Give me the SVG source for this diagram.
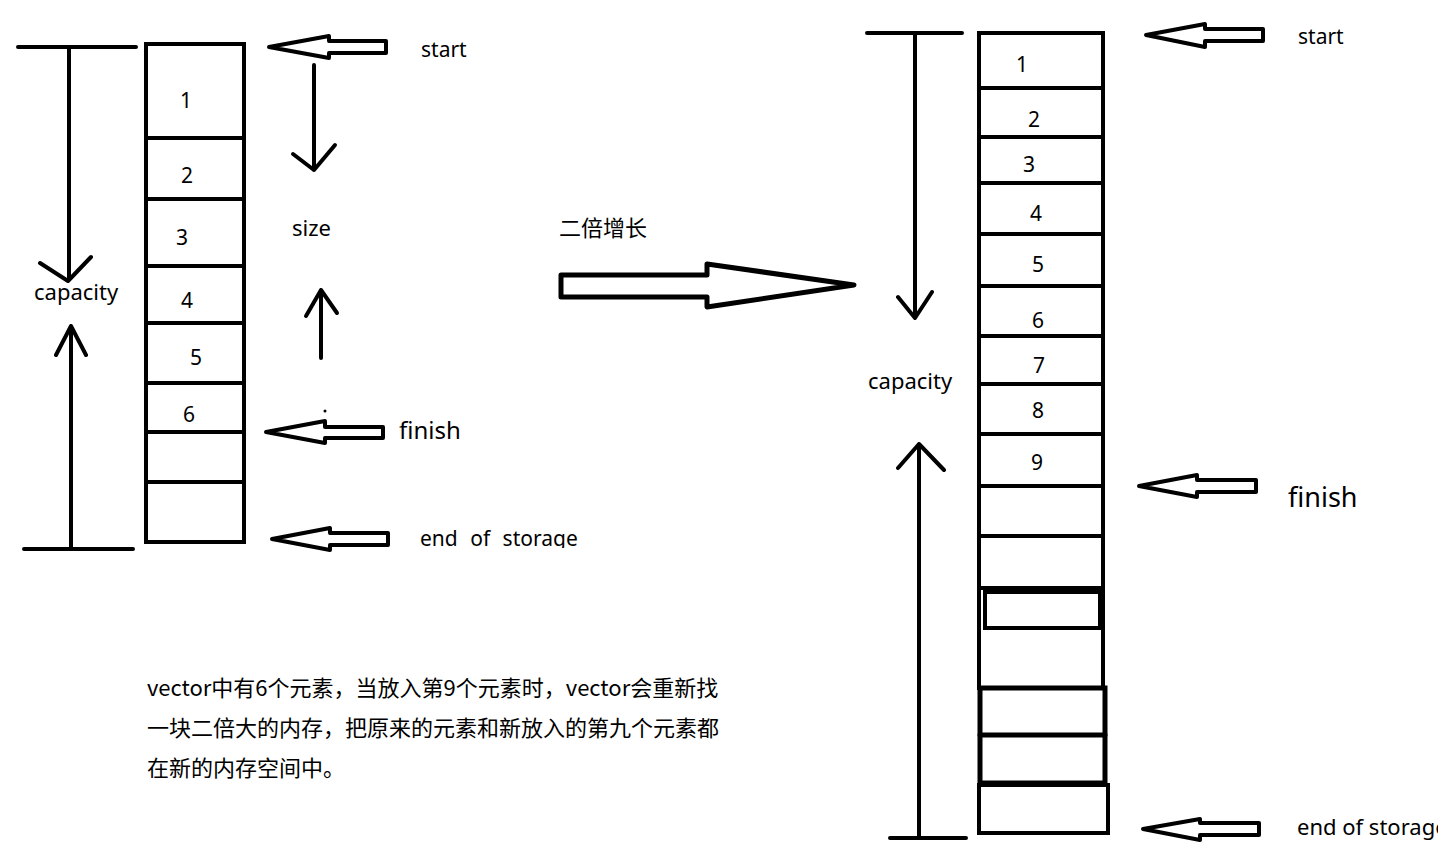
<svg xmlns="http://www.w3.org/2000/svg" width="1438" height="857" viewBox="0 0 1438 857">
<style>
.ln{stroke:#000;stroke-width:4;fill:none;stroke-linecap:round;stroke-linejoin:round}
.bx{stroke:#000;stroke-width:4;fill:#fff}
.ha{stroke:#000;stroke-width:4;fill:#fff;stroke-linejoin:round}
.t{font-family:"Noto Sans","Open Sans",sans-serif;font-size:21px;fill:#000}
.d{font-family:"Noto Sans","Open Sans",sans-serif;font-size:21px;fill:#000;text-anchor:middle}
.c{font-family:"Noto Sans CJK SC","Noto Sans",sans-serif;font-size:22px;fill:#000}
</style>
<defs>
<clipPath id="clipEos"><rect x="400" y="500" width="300" height="48"/></clipPath>
</defs>
<rect width="1438" height="857" fill="#fff"/>

<g id="left-vector">
<rect class="bx" x="146" y="44" width="98" height="498"/>
<path class="ln" d="M146 138H244M146 199H244M146 266H244M146 323H244M146 383H244M146 432H244M146 482H244"/>
<text class="d" x="186" y="108">1</text>
<text class="d" x="187" y="183">2</text>
<text class="d" x="182" y="245">3</text>
<text class="d" x="187" y="308">4</text>
<text class="d" x="196" y="365">5</text>
<text class="d" x="189" y="422">6</text>
</g>

<g id="right-vector">
<rect class="bx" x="979" y="33" width="124" height="555"/>
<path class="ln" d="M979 88H1103M979 137H1103M979 183H1103M979 234H1103M979 286H1103M979 336H1103M979 384H1103M979 434H1103M979 486H1103M979 536H1103"/>
<rect class="bx" x="979" y="588" width="124" height="100"/>
<rect class="bx" x="985" y="592" width="115" height="36"/>
<rect class="bx" x="980" y="688" width="125" height="95" style="stroke-width:5"/>
<path class="ln" d="M980 735H1105" style="stroke-width:5"/>
<rect class="bx" x="979" y="785" width="129" height="48"/>
<text class="d" x="1022" y="72">1</text>
<text class="d" x="1034" y="127">2</text>
<text class="d" x="1029" y="172">3</text>
<text class="d" x="1036" y="221">4</text>
<text class="d" x="1038" y="272">5</text>
<text class="d" x="1038" y="328">6</text>
<text class="d" x="1039" y="373">7</text>
<text class="d" x="1038" y="418">8</text>
<text class="d" x="1037" y="470">9</text>
</g>

<g id="connectors">
<path class="ln" d="M18 47H136M69 47V280M40 263L68 281L91 257"/>
<path class="ln" d="M24 549H133M71 549V326M56 355L71 326L86 355"/>
<path class="ln" d="M314 65V170M293 154L314 170L335 145"/>
<path class="ln" d="M321 358V290M306 316L321 290L337 313"/>
<circle cx="325" cy="411" r="1.5" fill="#000"/>
<polygon class="ha" points="269,47 329,36 329,41 386,41 386,53 329,53 329,58"/>
<polygon class="ha" points="266,432 325,421 325,427 383,427 383,438 325,438 325,443"/>
<polygon class="ha" points="272,539 330,528 330,533 388,533 388,545 330,545 330,550"/>
<polygon class="ha" style="stroke-width:5" points="561,275 707,275 707,264 854,285 707,307 707,297 561,297"/>
<path class="ln" d="M867 33H962M915 33V318M898 297L915 318L932 292"/>
<path class="ln" d="M890 838H966M919 838V444M898 468L919 444L944 470"/>
<polygon class="ha" points="1146,35 1205,24 1205,29 1263,29 1263,41 1205,41 1205,47"/>
<polygon class="ha" points="1139,486 1197,475 1197,480 1256,480 1256,492 1197,492 1197,497"/>
<polygon class="ha" points="1143,829 1200,819 1200,823 1259,823 1259,835 1200,835 1200,840"/>
</g>

<g id="labels">
<text class="t" x="421" y="57">start</text>
<text class="t" x="292" y="236" style="font-size:22px">size</text>
<text class="t" x="34" y="300" style="font-size:22px">capacity</text>
<text class="t" x="399" y="439" style="font-size:24px">finish</text>
<text class="t" x="420" y="546" style="word-spacing:7px" clip-path="url(#clipEos)">end of storage</text>
<text class="c" x="559" y="236">二倍增长</text>
<text class="t" x="1298" y="44">start</text>
<text class="t" x="868" y="389" style="font-size:22px">capacity</text>
<text class="t" x="1288" y="507" style="font-size:27px">finish</text>
<text class="t" x="1297" y="835" style="font-size:22px">end of storage</text>
<text class="c" x="147" y="696">vector中有6个元素，当放入第9个元素时，vector会重新找</text>
<text class="c" x="147" y="736">一块二倍大的内存，把原来的元素和新放入的第九个元素都</text>
<text class="c" x="147" y="776">在新的内存空间中。</text>
</g>
</svg>
